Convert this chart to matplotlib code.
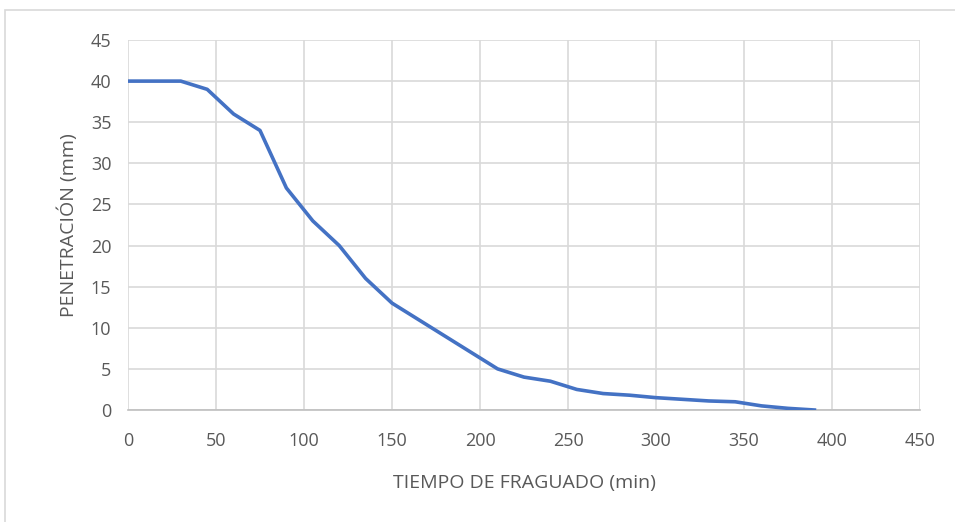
import matplotlib.pyplot as plt
from matplotlib.patches import Rectangle

# Setting time test: penetration vs. elapsed time
tiempo = [0, 15, 30, 45, 60, 75, 90, 105, 120, 135, 150, 165, 180, 195, 210,
          225, 240, 255, 270, 285, 300, 315, 330, 345, 360, 375, 390]
penetracion = [40, 40, 40, 39, 36, 34, 27, 23, 20, 16, 13, 11, 9, 7, 5,
               4, 3.5, 2.5, 2, 1.8, 1.5, 1.3, 1.1, 1, 0.5, 0.2, 0]

x_ticks = list(range(0, 451, 50))
y_ticks = list(range(0, 46, 5))

plt.rcParams['font.family'] = ['Open Sans', 'DejaVu Sans']

W, H = 955, 522
fig = plt.figure(figsize=(W / 100, H / 100), dpi=100)
ax = fig.add_axes([128 / W, 1 - 410 / H, (920 - 128) / W, (410 - 40) / H])

# Thin frame around the whole chart area
fig.patches.append(Rectangle((5 / W, -0.05), 1.0, 1 - 10 / H + 0.05,
                             transform=fig.transFigure, fill=False,
                             edgecolor='#d9d9d9', linewidth=1.2))

ax.plot(tiempo, penetracion, color='#4472c4', linewidth=2.6, zorder=3,
        solid_joinstyle='round')

ax.set_xlim(0, 450)
ax.set_ylim(0, 45)
ax.set_xticks(x_ticks)
ax.set_yticks(y_ticks)
ax.grid(True, color='#d9d9d9', linewidth=1.2)
ax.set_axisbelow(True)

for side in ['top', 'right', 'left']:
    ax.spines[side].set_visible(False)
ax.spines['bottom'].set_color('#bfbfbf')
ax.spines['bottom'].set_linewidth(1.2)

ax.tick_params(length=0, labelsize=13, labelcolor='#595959')
ax.tick_params(axis='y', pad=12)
ax.tick_params(axis='x', pad=16)

ax.set_xlabel('TIEMPO DE FRAGUADO (min)', fontsize=14, color='#595959', labelpad=17)
ax.set_ylabel('PENETRACIÓN (mm)', fontsize=14, color='#595959', labelpad=9)

fig.savefig('out.png', dpi=100)
